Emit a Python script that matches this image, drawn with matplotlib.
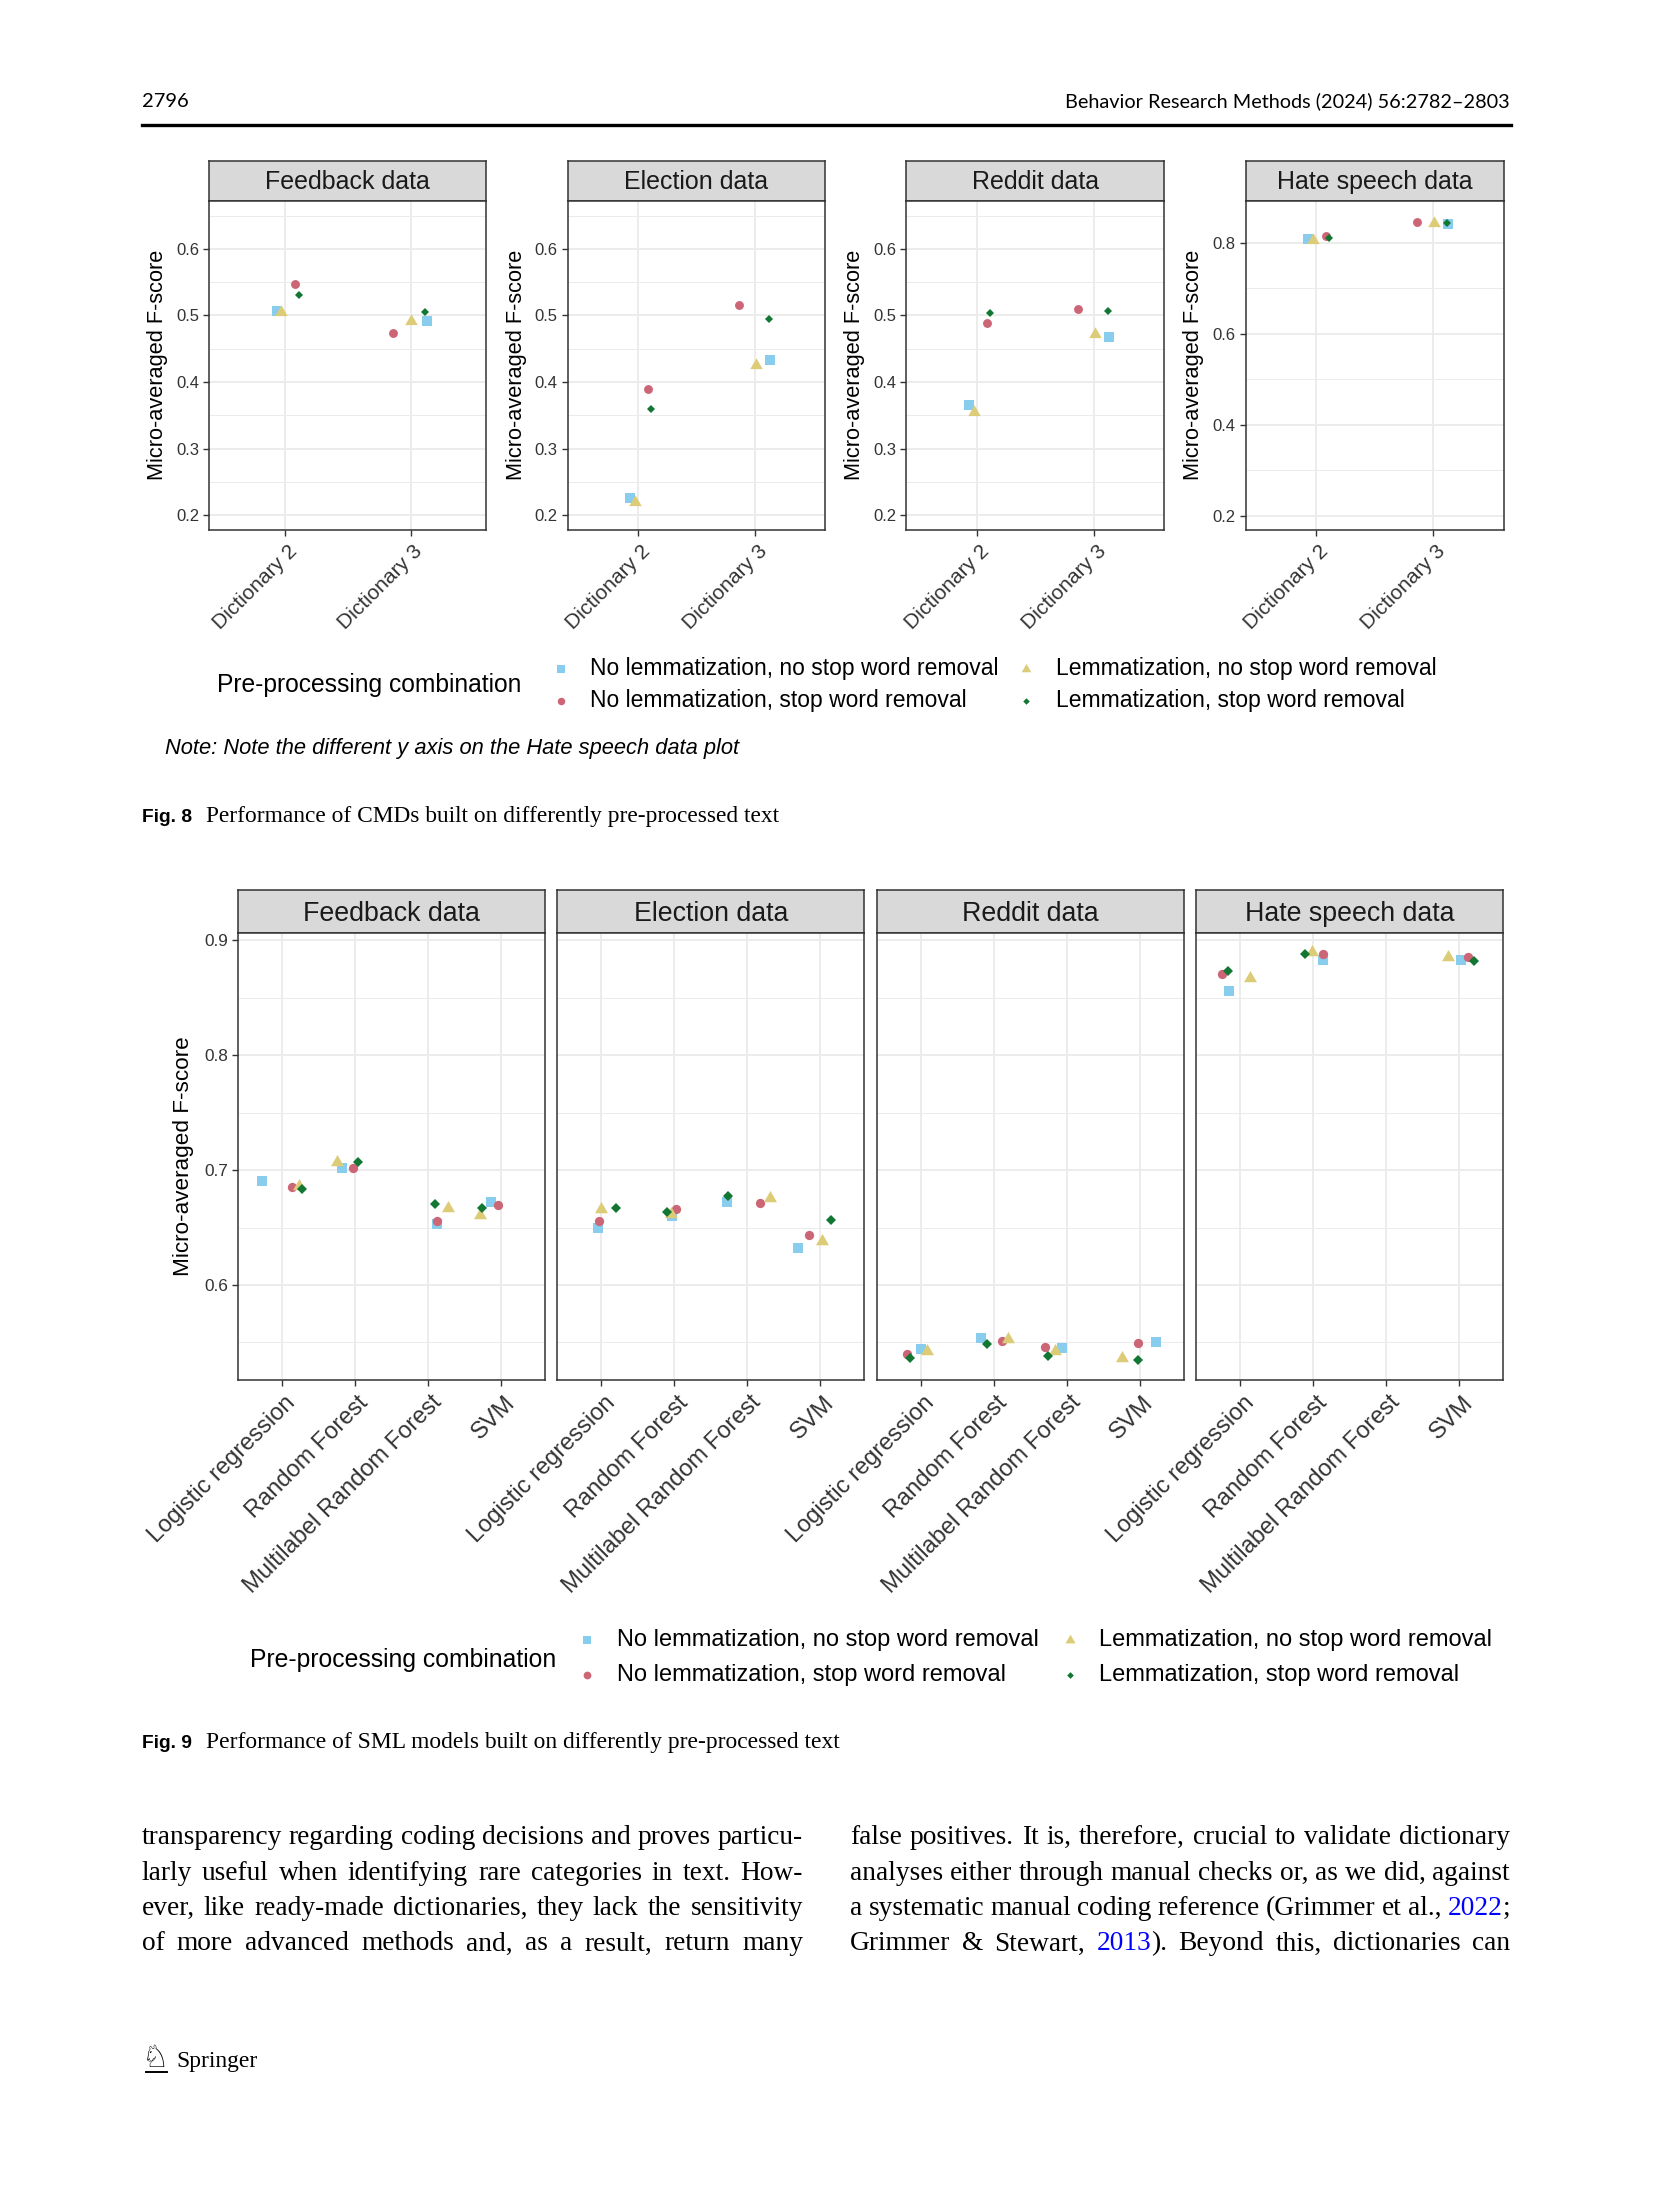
import re
import numpy as np
import matplotlib
matplotlib.use("Agg")
import matplotlib.pyplot as plt
import matplotlib.transforms as mtransforms

W, H = 1654, 2197

# ---- data ----
methods = ["No lemmatization, no stop word removal", "No lemmatization, stop word removal",
           "Lemmatization, no stop word removal", "Lemmatization, stop word removal"]
datasets = ["Feedback data", "Election data", "Reddit data", "Hate speech data"]

dictionaries = ["Dictionary 2", "Dictionary 3"]
# rows: methods, cols: dictionaries
cmd_feedback = [[0.506, 0.492], [0.548, 0.474], [0.505, 0.491], [0.530, 0.505]]
cmd_election = [[0.226, 0.433], [0.389, 0.515], [0.220, 0.426], [0.359, 0.494]]
cmd_reddit = [[0.366, 0.467], [0.488, 0.509], [0.355, 0.472], [0.503, 0.506]]
cmd_hate = [[0.807, 0.840], [0.815, 0.846], [0.806, 0.843], [0.811, 0.842]]
# horizontal jitter of the points, as drawn
cmd_jitter = [[-0.065, 0.13], [0.084, -0.137], [-0.027, 0.007], [0.115, 0.115]]

models = ["Logistic regression", "Random Forest", "Multilabel Random Forest", "SVM"]
sml_feedback = [[0.6905, 0.702, 0.6535, 0.6722], [0.6855, 0.702, 0.6557, 0.6697],
                [0.6865, 0.7067, 0.6669, 0.6613], [0.6833, 0.7073, 0.6703, 0.6669]]
sml_election = [[0.6495, 0.660, 0.6725, 0.632], [0.6557, 0.6666, 0.6712, 0.6439],
                [0.666, 0.6622, 0.6759, 0.638], [0.6669, 0.6638, 0.6774, 0.6563]]
sml_reddit = [[0.5447, 0.5543, 0.545, 0.5503], [0.5403, 0.5512, 0.546, 0.5494],
              [0.5425, 0.5534, 0.5425, 0.5369], [0.5369, 0.5487, 0.5379, 0.535]]
sml_hate = [[0.8559, 0.8829, np.nan, 0.8829], [0.8711, 0.8885, np.nan, 0.8854],
            [0.8674, 0.8897, np.nan, 0.8851], [0.8736, 0.8882, np.nan, 0.8817]]
sml_feedback_jit = [[-0.27, -0.175, 0.125, -0.14], [0.14, -0.03, 0.12, -0.04],
                    [0.24, -0.25, 0.27, -0.29], [0.28, 0.05, 0.09, -0.26]]
sml_election_jit = [[-0.04, -0.03, -0.28, -0.3], [-0.03, 0.03, 0.17, -0.16],
                    [0.0, -0.05, 0.31, 0.02], [0.2, -0.1, -0.26, 0.14]]
sml_reddit_jit = [[0.0, -0.17, -0.06, 0.22], [-0.18, 0.11, -0.3, -0.03],
                  [0.09, 0.2, -0.155, -0.24], [-0.15, -0.09, -0.26, -0.02]]
sml_hate_jit = [[-0.155, 0.14, 0.0, 0.03], [-0.25, 0.13, 0.0, 0.115],
                [0.13, -0.01, 0.0, -0.16], [-0.17, -0.11, 0.0, 0.2]]

colors = ["#88CCEE", "#CC6677", "#DDCC77", "#117733"]
TRI = [(0, 0.577), (-0.5, -0.289), (0.5, -0.289), (0, 0.577)]
markers = ["s", "o", TRI, "D"]

SANS = "Liberation Sans"
SERIF = "Liberation Serif"
DARK = "#333333"

fig = plt.figure(figsize=(W / 100, H / 100), dpi=100)
fig.patch.set_facecolor("white")
renderer = fig.canvas.get_renderer()


def rect(x0, x1, y0, y1):
    return [x0 / W, 1 - y1 / H, (x1 - x0) / W, (y1 - y0) / H]


def ftext(x, y, s, **kw):
    return fig.text(x / W, 1 - y / H, s, **kw)


def fit(t, width):
    bb = t.get_window_extent(renderer)
    t.set_fontsize(t.get_fontsize() * width / bb.width)
    return t


def make_panel(x0, x1, s0, s1, p1, title, title_size, cats, ylim, yticks, yminor,
               show_y, ysize, xsize, ms):
    st = fig.add_axes(rect(x0, x1, s0, s1))
    st.set_facecolor("#D9D9D9")
    st.set_xticks([]); st.set_yticks([])
    for sp in st.spines.values():
        sp.set_color(DARK); sp.set_linewidth(1.1)
    st.text(0.5, 0.46, title, ha="center", va="center", fontsize=title_size,
            family=SANS, color="#1A1A1A", transform=st.transAxes)

    ax = fig.add_axes(rect(x0, x1, s1, p1))
    n = len(cats)
    ax.set_xlim(0.4, n + 0.6)
    ax.set_ylim(*ylim)
    ax.set_xticks(np.arange(1, n + 1))
    ax.set_xticklabels(cats)
    ax.set_yticks(yticks)
    ax.set_yticks(yminor, minor=True)
    ax.set_yticklabels([f"{v:.1f}" for v in yticks] if show_y else [])
    ax.grid(which="major", color="#EBEBEB", lw=1.3)
    ax.grid(which="minor", axis="y", color="#EBEBEB", lw=0.7)
    ax.set_axisbelow(True)
    for sp in ax.spines.values():
        sp.set_color(DARK); sp.set_linewidth(1.1)
    ax.tick_params(which="minor", length=0)
    ax.tick_params(axis="y", which="major", length=4.6 if show_y else 0, width=1.0,
                   color=DARK, labelcolor=DARK, labelsize=ysize, pad=2.6)
    ax.tick_params(axis="x", which="major", length=4.5, width=1.0, color=DARK,
                   labelcolor=DARK, labelsize=xsize, pad=4.0)
    off = mtransforms.ScaledTranslation(0.025, 0, fig.dpi_scale_trans)
    for lab in ax.get_xticklabels():
        lab.set_rotation(45)
        lab.set_ha("right"); lab.set_va("top")
        lab.set_rotation_mode("anchor")
        lab.set_family(SANS)
        lab.set_transform(lab.get_transform() + off)
    for lab in ax.get_yticklabels():
        lab.set_family(SANS)
    return ax


def draw_points(ax, series, jitter, sizes):
    xs = np.arange(1, len(series[0]) + 1)
    for i in range(len(methods)):
        ax.plot(xs + np.array(jitter[i]), series[i], ls="none", marker=markers[i],
                ms=sizes[i], color=colors[i], mew=0)


def draw_legend(title_x, title_y, key_x, text_x, rows_y, size, title_size, ksizes):
    t = ftext(title_x, title_y, "Pre-processing combination", ha="left", va="center",
              fontsize=title_size, family=SANS, color="black")
    for i, m in enumerate(methods):
        col, row = i // 2, i % 2
        kx, ky = key_x[col], rows_y[row]
        fig.add_artist(plt.Line2D([kx / W], [1 - ky / H], ls="none", marker=markers[i],
                                  ms=ksizes[i], color=colors[i], mew=0,
                                  transform=fig.transFigure))
        ftext(text_x[col], ky, m, ha="left", va="center", fontsize=size,
              family=SANS, color="black")
    return t


# ---- header ----
ftext(142.3, 107.3, "2796", ha="left", va="baseline", fontsize=14.5, family="Lato")
h = ftext(1510, 107.3, "Behavior Research Methods (2024) 56:2782\u20132803", ha="right",
          va="baseline", fontsize=14.5, family="Lato")
fit(h, 446)
fig.add_artist(plt.Line2D([142 / W, 1511 / W], [1 - 125 / H] * 2, color="black", lw=2.4,
                          transform=fig.transFigure))

# ---- Fig. 8 ----
fig8_x = [(209.2, 486), (567.7, 825.3), (906.3, 1164.4), (1245.5, 1503.5)]
fig8_data = [cmd_feedback, cmd_election, cmd_reddit, cmd_hate]
fig8_sizes = [6.5, 6.4, 10.4, 4.0]
for k, (x0, x1) in enumerate(fig8_x):
    hate = k == 3
    ax = make_panel(x0, x1, 160.7, 200.7, 530, datasets[k], 18, dictionaries,
                    (0.1686, 0.892) if hate else (0.1775, 0.6725),
                    [0.2, 0.4, 0.6, 0.8] if hate else [0.2, 0.3, 0.4, 0.5, 0.6],
                    [0.3, 0.5, 0.7] if hate else [0.25, 0.35, 0.45, 0.55, 0.65],
                    True, 12, 15, fig8_sizes)
    draw_points(ax, fig8_data[k], cmd_jitter, fig8_sizes)
    ax.text(-51.5 / (x1 - x0), 0.5, "Micro-averaged F-score", rotation=90, ha="center",
            va="center", fontsize=15.7, family=SANS, color="black", transform=ax.transAxes)

t = draw_legend(217, 685.4, [560.7, 1026], [590, 1055.5], [668.6, 700.9], 16.5, 17.8,
                [5.4, 5.4, 8.0, 3.3])
fit(t, 305.6)
nt = ftext(165.4, 748.5, "Note: Note the different y axis on the Hate speech data plot",
           ha="left", va="center", fontsize=15, family=SANS, style="italic")
fit(nt, 575)

c1 = ftext(141.6, 822, "Fig. 8", ha="left", va="baseline", fontsize=14, family=SANS,
           weight="bold")
fit(c1, 50)
c2 = ftext(206, 822, "Performance of CMDs built on differently pre-processed text",
           ha="left", va="baseline", fontsize=15, family=SERIF)
fit(c2, 575)

# ---- Fig. 9 ----
fig9_x = [(237.8, 545), (557.4, 864.2), (876.8, 1183.7), (1196.3, 1503.1)]
fig9_data = [sml_feedback, sml_election, sml_reddit, sml_hate]
fig9_jit = [sml_feedback_jit, sml_election_jit, sml_reddit_jit, sml_hate_jit]
fig9_sizes = [6.9, 6.7, 10.8, 4.7]
for k, (x0, x1) in enumerate(fig9_x):
    ax = make_panel(x0, x1, 890.4, 933.2, 1379.6, datasets[k], 19.3, models,
                    (0.5177, 0.9062), [0.6, 0.7, 0.8, 0.9], [0.55, 0.65, 0.75, 0.85],
                    k == 0, 12.4, 17, fig9_sizes)
    draw_points(ax, fig9_data[k], fig9_jit[k], fig9_sizes)
    if k == 0:
        ax.text(-54 / (x1 - x0), 0.5, "Micro-averaged F-score", rotation=90, ha="center",
                va="center", fontsize=16.2, family=SANS, color="black",
                transform=ax.transAxes)

t = draw_legend(249.5, 1659.6, [587.3, 1069.5], [616.7, 1099], [1640, 1675], 17, 17.8,
                [5.6, 5.6, 8.4, 3.4])
fit(t, 307)
c1 = ftext(141.6, 1748, "Fig. 9", ha="left", va="baseline", fontsize=14, family=SANS,
           weight="bold")
fit(c1, 50)
c2 = ftext(206, 1748, "Performance of SML models built on differently pre-processed text",
           ha="left", va="baseline", fontsize=15, family=SERIF)
fit(c2, 635)

# ---- body text (justified) ----
left_lines = [
    "transparency regarding coding decisions and proves particu-",
    "larly useful when identifying rare categories in text. How-",
    "ever, like ready-made dictionaries, they lack the sensitivity",
    "of more advanced methods and, as a result, return many",
]
right_lines = [
    "false positives. It is, therefore, crucial to validate dictionary",
    "analyses either through manual checks or, as we did, against",
    "a systematic manual coding reference (Grimmer et al., {2022};",
    "Grimmer & Stewart, {2013}). Beyond this, dictionaries can",
]
LINK = "#0000FF"


def segments(word):
    out = []
    for part in re.split(r"(\{[^}]*\})", word):
        if not part:
            continue
        if part.startswith("{"):
            out.append((part[1:-1], LINK))
        else:
            out.append((part, "black"))
    return out


def justify(line, x0, x1, y, size):
    words = [segments(w) for w in line.split(" ")]
    items = []
    total = 0.0
    for w in words:
        row = []
        for s, c in w:
            t = ftext(0, y, s, ha="left", va="baseline", fontsize=size, family=SERIF, color=c)
            wd = t.get_window_extent(renderer).width
            row.append((t, wd))
            total += wd
        items.append(row)
    gap = (x1 - x0 - total) / (len(items) - 1)
    x = x0
    for row in items:
        for t, wd in row:
            t.set_x(x / W)
            x += wd
        x += gap


base = [1844, 1879.5, 1915, 1950.5]
for i, ln in enumerate(left_lines):
    justify(ln, 141.6, 803, base[i], 19.7)
for i, ln in enumerate(right_lines):
    justify(ln, 850, 1510, base[i], 19.7)

# ---- footer ----
ftext(141, 2067, "\u2658", ha="left", va="baseline", fontsize=22, family="DejaVu Sans")
fig.add_artist(plt.Line2D([146 / W, 167 / W], [1 - 2072 / H] * 2, color="black", lw=1.4,
                          transform=fig.transFigure))
sp = ftext(176.7, 2067, "Springer", ha="left", va="baseline", fontsize=15, family=SERIF)
fit(sp, 81)

fig.savefig("out.png", dpi=100, facecolor="white")
